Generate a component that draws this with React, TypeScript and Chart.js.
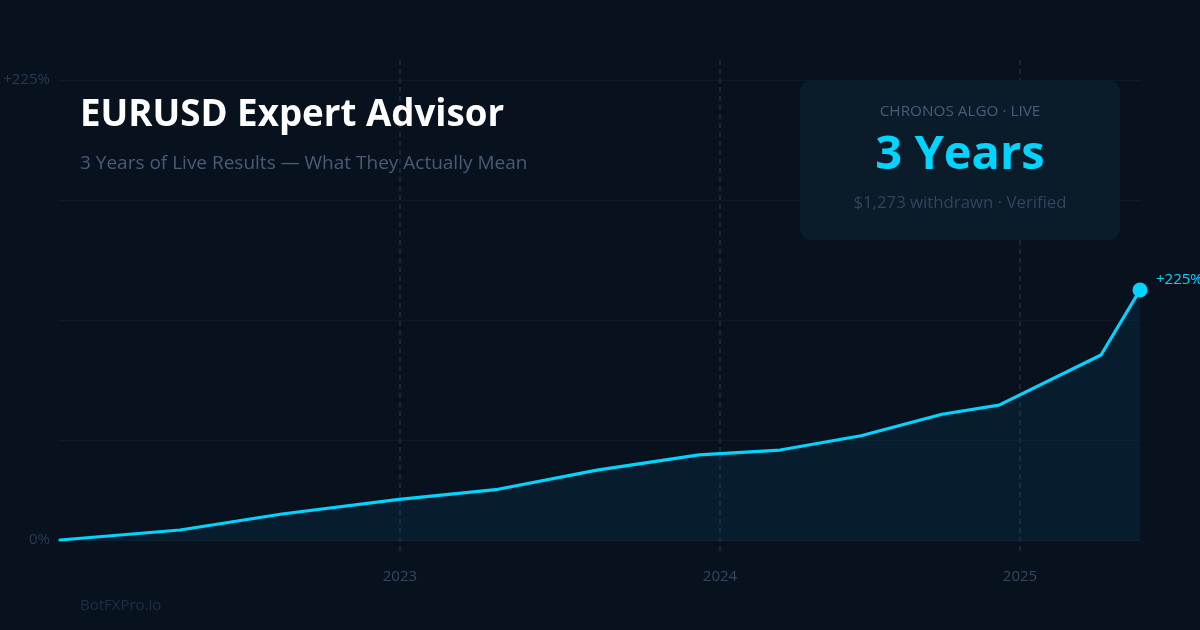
import React, { useEffect, useRef } from "react";
import { Chart, registerables } from "chart.js";

Chart.register(...registerables);

// ---- data ----
const monthPos = [0, 4.0, 7.4, 11.3, 14.6, 17.9, 21.3, 24.0, 26.7, 29.4, 31.3, 34.7, 36];
const returnPct = [0, 4.9, 12.7, 19.9, 24.8, 34.2, 41.6, 44.0, 51.0, 61.5, 66.0, 90.5, 122.3];
const yearPos = [11.33, 22, 32];
const yearLabels = ["2023", "2024", "2025"];
const yGridValues = [0, 48.9, 107.6, 166.3, 225];
const yTickLabels: Record<number, string> = { 0: "0%", 225: "+225%" };
const endLabel = "+225%";

const BG = "#08121f";
const CYAN = "#00d4ff";
const FONT = "'Open Sans', 'Noto Sans', sans-serif";

const yearLinesPlugin = {
  id: "yearLines",
  beforeDatasetsDraw(chart: any) {
    const { ctx, chartArea, scales } = chart;
    ctx.save();
    ctx.strokeStyle = "#18253a";
    ctx.lineWidth = 2;
    ctx.setLineDash([5, 4]);
    yearPos.forEach((v) => {
      const x = Math.round(scales.x.getPixelForValue(v));
      ctx.beginPath();
      ctx.moveTo(x, chartArea.top - 20);
      ctx.lineTo(x, chartArea.bottom + 15);
      ctx.stroke();
    });
    ctx.restore();
  },
};

const endLabelPlugin = {
  id: "endLabel",
  afterDatasetsDraw(chart: any) {
    const meta = chart.getDatasetMeta(0);
    const pt = meta.data[meta.data.length - 1];
    if (!pt) return;
    const { ctx } = chart;
    ctx.save();
    ctx.fillStyle = CYAN;
    ctx.font = `15px ${FONT}`;
    ctx.textAlign = "left";
    ctx.textBaseline = "middle";
    ctx.fillText(endLabel, pt.x + 16, pt.y - 10);
    ctx.restore();
  },
};

export default function App() {
  const canvasRef = useRef<HTMLCanvasElement | null>(null);

  useEffect(() => {
    document.body.style.margin = "0";
    const canvas = canvasRef.current;
    if (!canvas) return;
    const last = returnPct.length - 1;
    const chart = new Chart(canvas, {
      type: "line",
      data: {
        datasets: [
          {
            data: monthPos.map((m, i) => ({ x: m, y: returnPct[i] })),
            borderColor: CYAN,
            borderWidth: 3.2,
            backgroundColor: "rgba(0, 212, 255, 0.06)",
            fill: "origin",
            tension: 0,
            borderJoinStyle: "round",
            borderCapStyle: "round",
            pointRadius: (c: any) => (c.dataIndex === last ? 7.5 : 0),
            pointHoverRadius: (c: any) => (c.dataIndex === last ? 7.5 : 0),
            pointBackgroundColor: CYAN,
            pointBorderWidth: 0,
            clip: false,
          } as any,
        ],
      },
      options: {
        animation: false,
        responsive: false,
        maintainAspectRatio: false,
        devicePixelRatio: 1,
        layout: { padding: { top: 80, right: 60, left: 0, bottom: 0 } },
        plugins: { legend: { display: false }, tooltip: { enabled: false }, title: { display: false } },
        events: [],
        scales: {
          x: {
            type: "linear",
            min: 0,
            max: 36,
            grid: { display: false, drawTicks: false },
            border: { display: false },
            afterBuildTicks: (scale: any) => {
              scale.ticks = yearPos.map((v) => ({ value: v }));
            },
            afterFit: (scale: any) => {
              scale.height = 90;
            },
            ticks: {
              autoSkip: false,
              maxRotation: 0,
              padding: 28,
              color: "#36465f",
              font: { family: FONT, size: 15 },
              callback: (_v: any, i: number) => yearLabels[i],
            },
          },
          y: {
            type: "linear",
            min: 0,
            max: 225,
            grid: {
              drawTicks: false,
              color: (c: any) => (c.tick && c.tick.value === 0 ? "#0e2236" : "#0e1a2a"),
              lineWidth: 1,
            },
            border: { display: false },
            afterBuildTicks: (scale: any) => {
              scale.ticks = yGridValues.map((v) => ({ value: v }));
            },
            afterFit: (scale: any) => {
              scale.width = 60;
            },
            ticks: {
              padding: 10,
              color: "#2a3852",
              font: { family: FONT, size: 15 },
              callback: (v: any) => yTickLabels[v as number] ?? "",
            },
          },
        },
      },
      plugins: [yearLinesPlugin, endLabelPlugin],
    } as any);
    return () => chart.destroy();
  }, []);

  const abs = (s: React.CSSProperties): React.CSSProperties => ({ position: "absolute", whiteSpace: "nowrap", lineHeight: 1, ...s });

  return (
    <div style={{ position: "fixed", left: 0, top: 0, width: 1200, height: 630, background: BG, overflow: "hidden", fontFamily: FONT }}>
      <canvas ref={canvasRef} width={1200} height={630} style={{ position: "absolute", left: 0, top: 0, width: 1200, height: 630 }} />
      <div style={abs({ left: 80, top: 94, fontSize: 36.7, fontWeight: 700, color: "#ffffff" })}>EURUSD Expert Advisor</div>
      <div style={abs({ left: 80, top: 153, fontSize: 19, color: "#4a5a78" })}>3 Years of Live Results — What They Actually Mean</div>
      <div style={{ position: "absolute", left: 800, top: 80, width: 320, height: 160, borderRadius: 12, background: "#0a1b2a" }}>
        <div style={abs({ left: 0, width: 320, textAlign: "center", top: 23, fontSize: 15.3, color: "#4b5b78" })}>CHRONOS ALGO · LIVE</div>
        <div style={abs({ left: 0, width: 320, textAlign: "center", top: 48, fontSize: 47, fontWeight: 700, color: CYAN })}>3 Years</div>
        <div style={abs({ left: 0, width: 320, textAlign: "center", top: 114, fontSize: 16.8, color: "#34435e" })}>$1,273 withdrawn · Verified</div>
      </div>
      <div style={abs({ left: 80, top: 597, fontSize: 15, color: "#1f2e47" })}>BotFXPro.io</div>
    </div>
  );
}
